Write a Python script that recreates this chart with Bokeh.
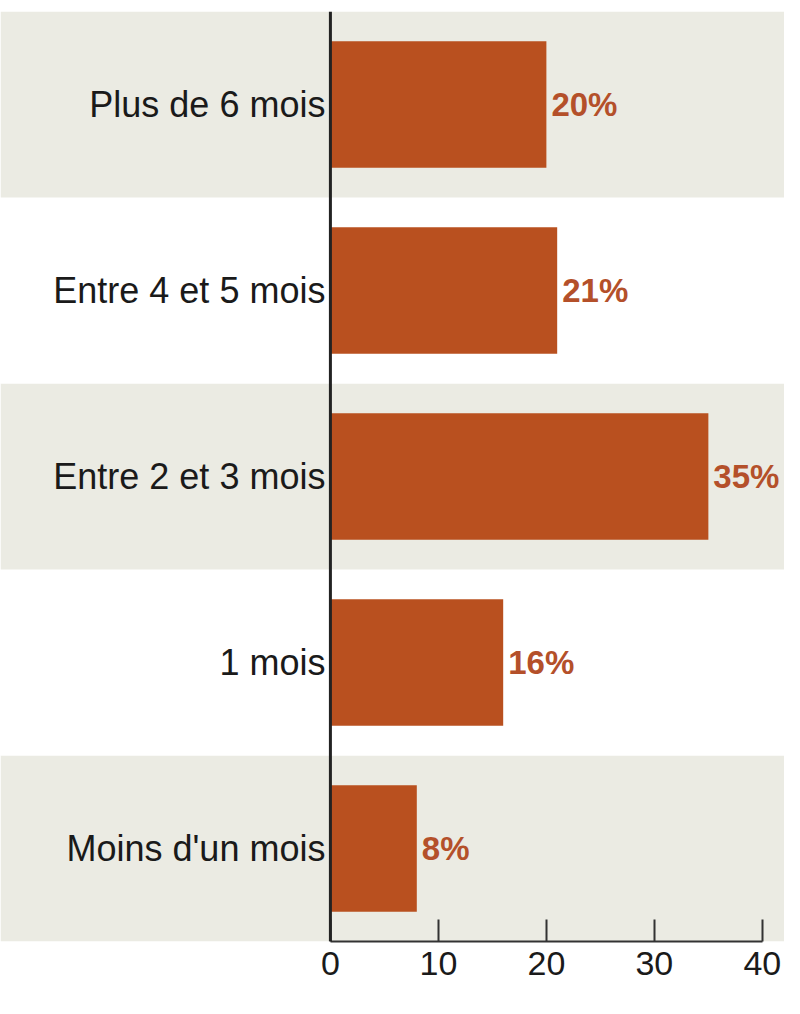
from bokeh.plotting import figure
from bokeh.models import Range1d, FactorRange, Span
from bokeh.core.properties import value
from bokeh.embed import file_html
from bokeh.resources import INLINE

# Data (bottom to top)
categories = ["Moins d'un mois", "1 mois", "Entre 2 et 3 mois", "Entre 4 et 5 mois", "Plus de 6 mois"]
values = [8, 16, 35, 21, 20]
value_labels = ["8%", "16%", "35%", "21%", "20%"]
x_ticks = [0, 10, 20, 30, 40]

band_colors = ["#EBEBE3", "#FFFFFF", "#EBEBE3", "#FFFFFF", "#EBEBE3"]
bar_color = "#B9501F"
label_color = "#B4502A"
font = "Liberation Sans"

x_start, x_end = -30.55, 42.05

p = figure(
    width=784, frame_width=784, frame_height=930,
    x_range=Range1d(x_start, x_end),
    y_range=FactorRange(factors=categories, range_padding=0),
    output_backend="svg", toolbar_location=None,
    y_axis_location=None,
    min_border_top=11, min_border_left=0, min_border_right=0, min_border_bottom=56,
)
p.outline_line_color = None
p.grid.visible = False
p.background_fill_color = "#FFFFFF"
p.border_fill_color = "#FFFFFF"

# background bands
p.hbar(y=categories, left=x_start, right=x_end, height=1.0,
       fill_color=band_colors, line_color=None)

# bars
p.hbar(y=categories, left=0, right=values, height=0.68,
       fill_color=bar_color, line_color=None)

# value labels
p.text(x=values, y=categories, text=value_labels, x_offset=5,
       text_baseline="middle", text_align="left",
       text_font=value(font), text_font_style="bold",
       text_font_size="33px", text_color=label_color)

# category labels
p.text(x=[0] * len(categories), y=categories, text=categories, x_offset=-5,
       text_baseline="middle", text_align="right",
       text_font=value(font), text_font_size="36px", text_color="#1A1A1A")

# vertical baseline
p.add_layout(Span(location=0, dimension="height", line_color="#222222", line_width=3))

ax = p.xaxis[0]
ax.ticker = x_ticks
ax.bounds = (0, 40)
ax.major_tick_in = 22
ax.major_tick_out = 0
ax.minor_tick_line_color = None
ax.axis_line_width = 2
ax.axis_line_color = "#333333"
ax.major_tick_line_width = 2
ax.major_tick_line_color = "#333333"
ax.major_label_text_font = font
ax.major_label_text_font_size = "34px"
ax.major_label_text_color = "#1A1A1A"
ax.major_label_standoff = 10

open("out.html", "w").write(file_html(p, INLINE))
